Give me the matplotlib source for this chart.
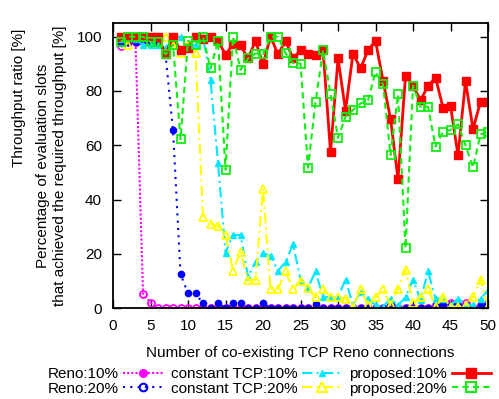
import matplotlib
matplotlib.use("Agg")
import matplotlib.pyplot as plt
from matplotlib.lines import Line2D

plt.rcParams['font.family'] = ['Liberation Sans', 'DejaVu Sans']

# number of co-existing TCP Reno connections
n_conn = list(range(1, 51))

reno_10 = [96.5, 98, 98, 5.3, 2, 0, 0, 0, 0, 0,
           0, 0, 0, 0, 0, 0, 0, 0, 0, 0,
           0, 0, 0, 0, 0, 0, 0, 0, 0, 0,
           0, 0, 0, 0, 0, 0, 0, 0, 0, 0,
           0, 0, 1, 2, 2, 0, 2, 0, 1, 2]

reno_20 = [97.5, 98, 98, 98, 98, 98, 93.5, 65.5, 12.5, 5.4,
           5.4, 1.7, 0, 1.9, 0, 1.9, 1.9, 0, 0, 1.9,
           0, 0, 0, 0, 0, 0, 1.5, 0, 0, 0,
           0, 0, 0, 0, 0, 0, 1.5, 0, 0, 0,
           0, 0, 1, 1, 1, 1, 1, 0, 1, 1.5]

const_10 = [99, 100, 99, 97, 97, 97, 96, 100, 100, 97,
            97, 100, 84, 53.5, 20.4, 26.9, 26.9, 11.5, 17, 20.4,
            19.2, 13.7, 17, 23.5, 10.5, 7.5, 13.5, 4, 4, 4,
            10.5, 1, 6, 3.5, 1, 0.5, 3.5, 1, 4, 10.5,
            3, 13.5, 3.5, 3.5, 1, 3.5, 1.5, 1, 3.5, 6.5]

const_20 = [100, 97, 100, 100, 100, 100, 100, 97, 94, 97,
            94, 33.7, 31, 30.2, 26.9, 13.7, 20.8, 10.3, 10.5, 44,
            7, 7, 13.5, 7, 10, 7.5, 4, 7, 4, 4,
            3.5, 0.5, 7, 1, 4, 7, 1, 7, 14, 2,
            4, 7, 0.5, 4, 0.5, 0.5, 1, 4, 10.5, 0.5]

prop_10 = [100, 100, 100, 100, 100, 100, 93.5, 100, 95, 96,
           100, 99, 100, 98.5, 93.4, 97.2, 96.8, 92, 98.5, 89.8,
           100, 93.5, 98.5, 92, 95, 93.8, 93.3, 95.2, 57.5, 92,
           72.8, 93.8, 88.3, 95, 98.5, 83.8, 69.7, 47.5, 85.6, 81.8,
           76.6, 81.8, 84.9, 73.9, 74.5, 56.3, 83.6, 66, 76, 76]

prop_20 = [98, 100, 100, 100, 98, 98, 93.5, 97, 62.2, 98.5,
           97, 100, 88.3, 98.3, 51, 100, 87.8, 92, 93.8, 93.6,
           100, 100, 93.9, 90.2, 90.1, 51.7, 76, 95, 78.8, 62.7,
           70.5, 73, 75.4, 76.6, 87, 82.5, 56.4, 78.7, 22, 82,
           74.2, 74.2, 59.5, 65, 65.6, 67.7, 60, 51.8, 64, 65]

MAG, BLUE, CYAN, YEL, RED, GRN = '#ff00ff', '#0000ff', '#00e8ff', '#ffff00', '#ff0000', '#11ee11'

fig = plt.figure(figsize=(4.99, 3.99), dpi=100)
ax = fig.add_axes([0.2265, 0.228, 0.7515, 0.714])

lw = 1.5
ax.plot(n_conn, reno_10, color=MAG, lw=lw, ls=(0, (1, 1)), marker='o', ms=5,
        mfc='none', mec=MAG, mew=1.3)
ax.plot(n_conn, reno_20, color=BLUE, lw=lw, ls=(0, (1, 2.5)), marker='o', ms=4.5,
        mfc=BLUE, mec=BLUE)
ax.plot(n_conn, const_10, color=CYAN, lw=lw, ls=(0, (5, 2, 1, 2)), marker='^', ms=4.5,
        mfc=CYAN, mec=CYAN)
ax.plot(n_conn, const_20, color=YEL, lw=lw, ls=(0, (5, 2, 1, 2)), marker='^', ms=6,
        mfc='none', mec=YEL, mew=1.3)
ax.plot(n_conn, prop_10, color=RED, lw=2, ls='-', marker='s', ms=5.2,
        mfc=RED, mec=RED)
ax.plot(n_conn, prop_20, color=GRN, lw=lw, ls=(0, (3, 2)), marker='s', ms=5.2,
        mfc='none', mec=GRN, mew=1.3)

ax.set_xlim(0, 50)
ax.set_ylim(0, 105)
ax.set_xticks(range(0, 51, 5))
ax.set_yticks(range(0, 101, 20))
ax.tick_params(direction='in', top=True, right=True, length=6, width=1,
               labelsize=11, pad=8)
for sp in ax.spines.values():
    sp.set_linewidth(1.3)

ax.set_xlabel('Number of co-existing TCP Reno connections', fontsize=11, labelpad=9)
fig.text(0.038, 0.755, 'Throughput ratio [%]', rotation=90, ha='center', va='center', fontsize=11)
fig.text(0.086, 0.585, 'Percentage of evaluation slots', rotation=90, ha='center', va='center', fontsize=11)
fig.text(0.121, 0.585, 'that achieved the required throughput [%]', rotation=90, ha='center', va='center', fontsize=11)

handles = [
    Line2D([], [], color=MAG, lw=lw, ls=(0, (1, 1)), marker='o', ms=5.5, mfc=MAG, mec=MAG),
    Line2D([], [], color=BLUE, lw=lw, ls=(0, (1, 2.5)), marker='o', ms=5.5, mfc='none', mec=BLUE, mew=1.5),
    Line2D([], [], color=CYAN, lw=lw, ls=(0, (5, 2, 1, 2)), marker='^', ms=5, mfc=CYAN, mec=CYAN),
    Line2D([], [], color=YEL, lw=lw, ls=(0, (5, 2, 1, 2)), marker='^', ms=6.5, mfc='none', mec=YEL, mew=1.5),
    Line2D([], [], color=RED, lw=2, ls='-', marker='s', ms=6.5, mfc=RED, mec=RED),
    Line2D([], [], color=GRN, lw=lw, ls=(0, (3, 2)), marker='s', ms=6.5, mfc='none', mec=GRN, mew=1.5),
]
labels = ['Reno:10%', 'Reno:20%', 'constant TCP:10%', 'constant TCP:20%',
          'proposed:10%', 'proposed:20%']
fig.legend(handles, labels, ncol=3, loc='upper center', bbox_to_anchor=(0.54, 0.079),
           frameon=False, markerfirst=False, fontsize=11, handlelength=2.6,
           handletextpad=0.3, columnspacing=0.5, labelspacing=0.02,
           borderpad=0, borderaxespad=0)

fig.savefig('out.png', dpi=100)
